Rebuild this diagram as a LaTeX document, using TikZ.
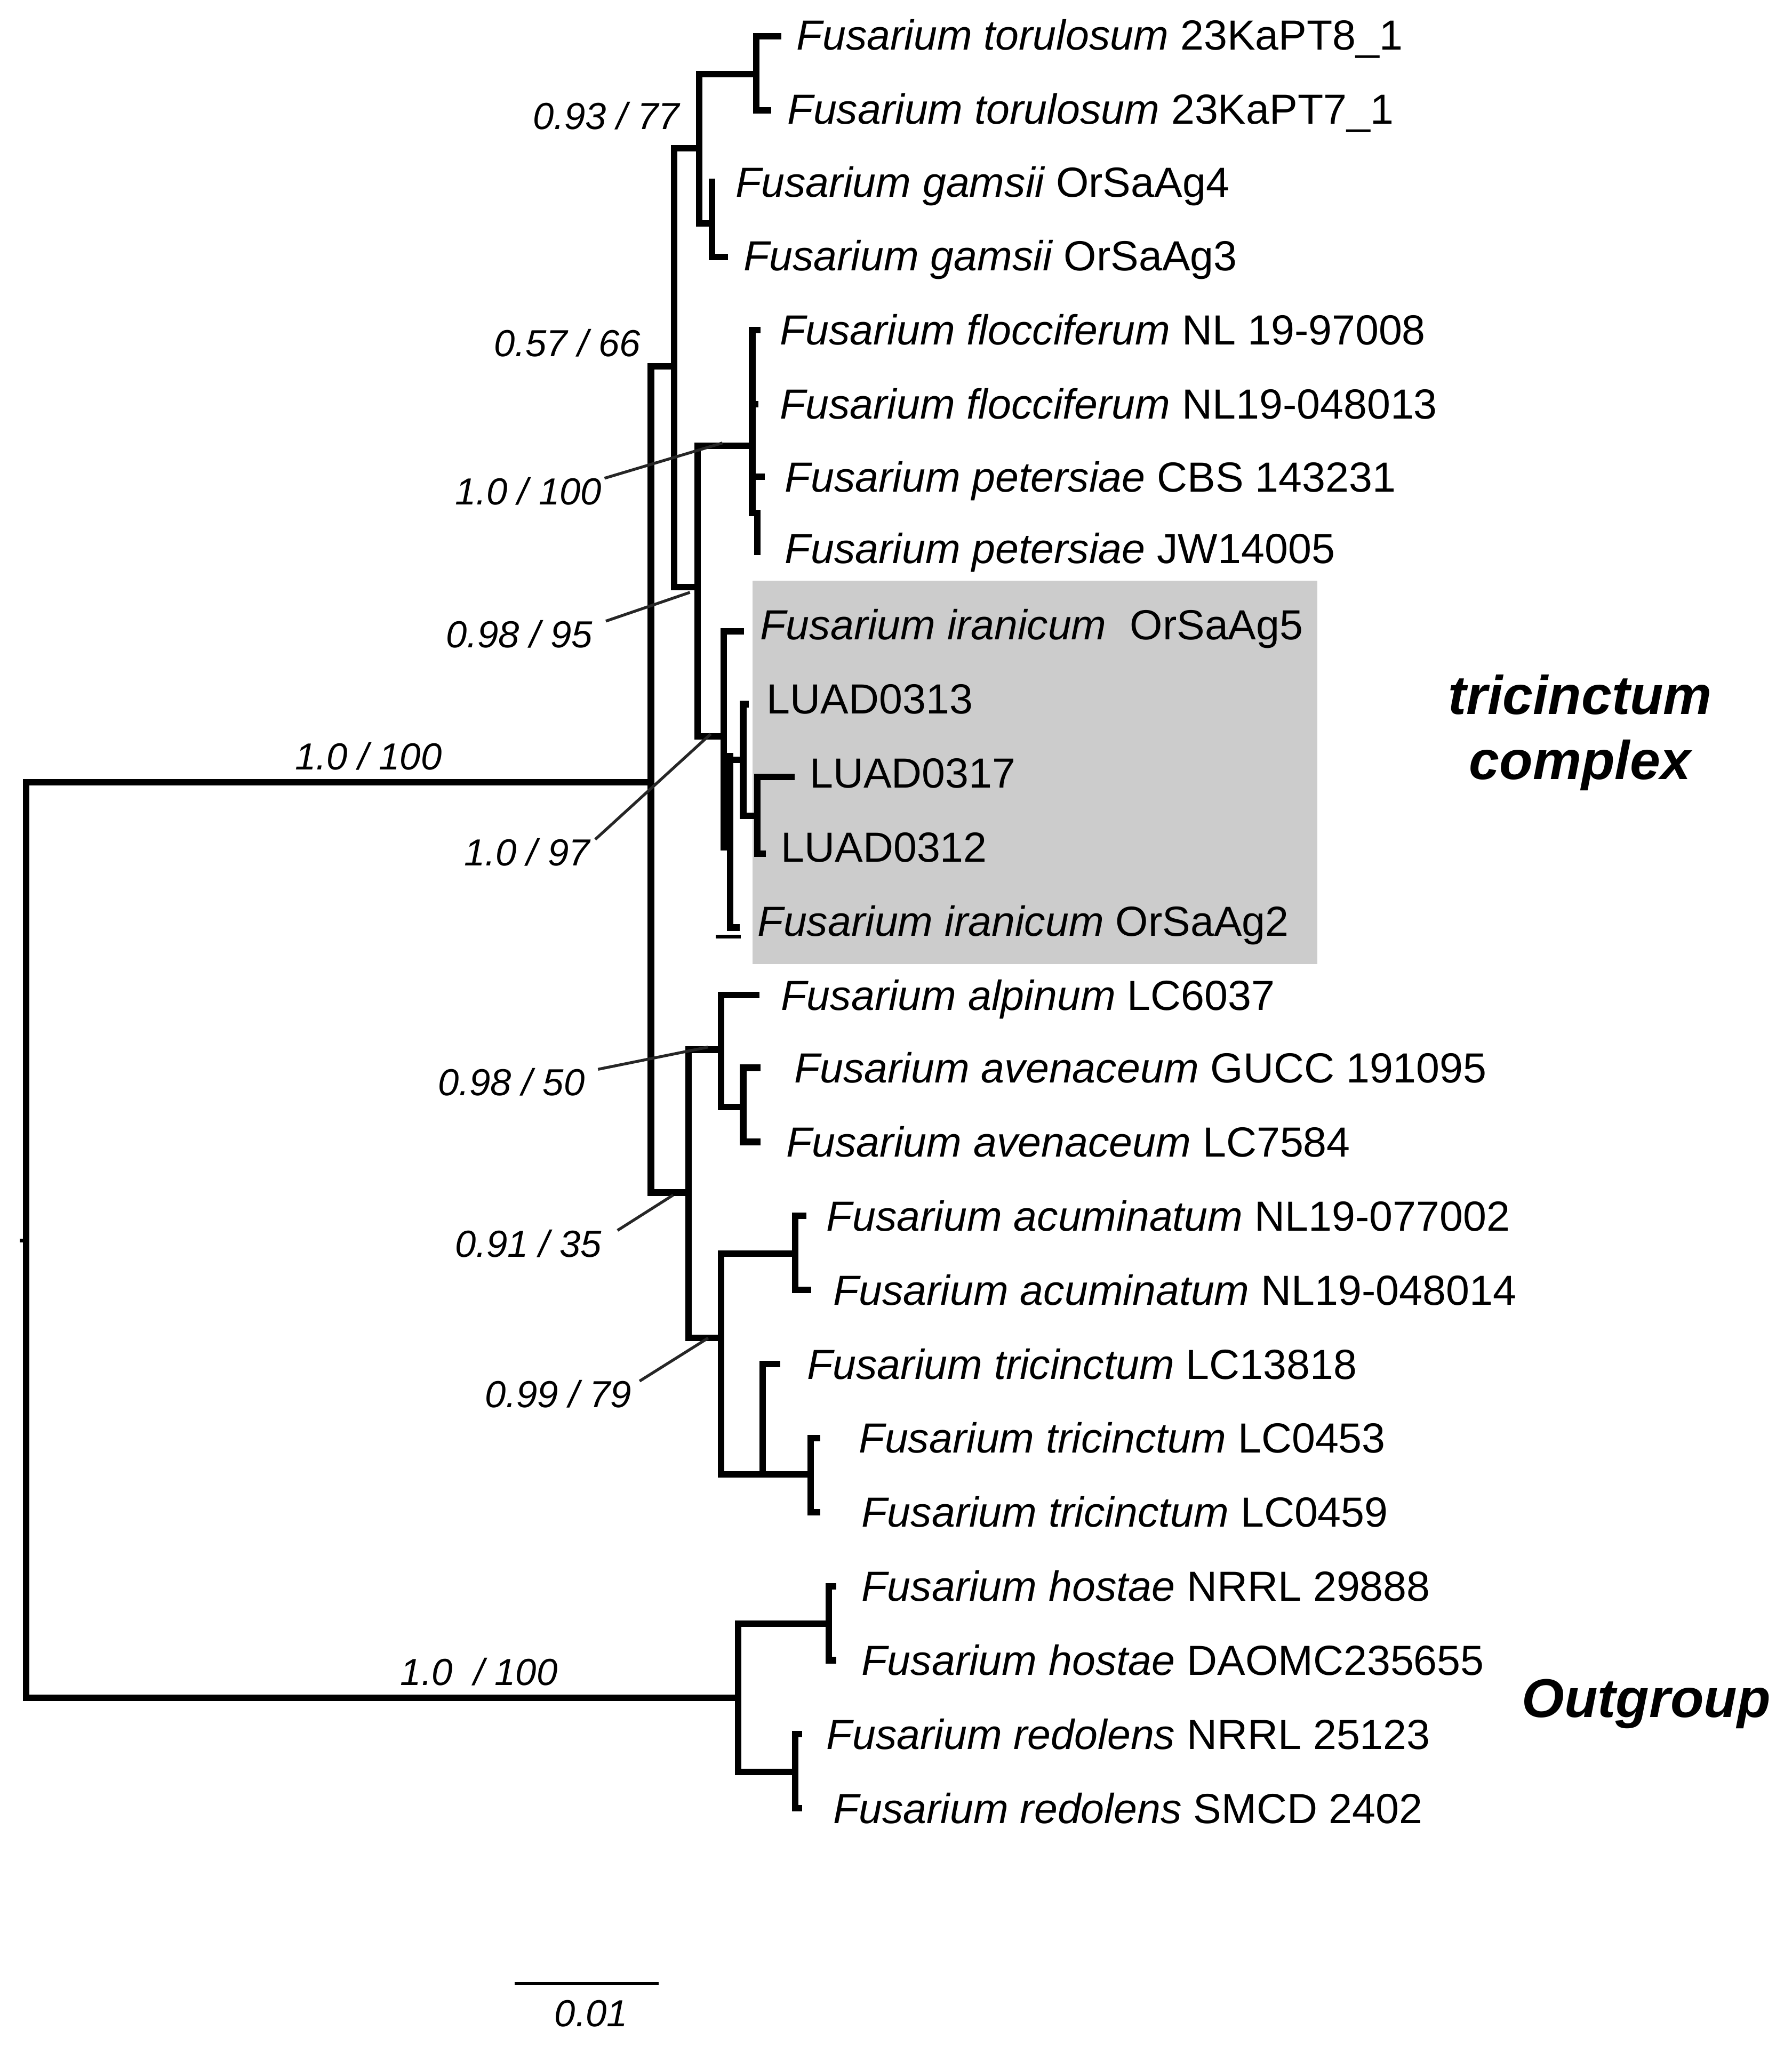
\documentclass[tikz,border=0pt]{standalone}
\usepackage{fontspec}
\setmainfont{Liberation Sans}
\begin{document}
\begin{tikzpicture}[x=1pt,y=-1pt,
  tr/.style={line width=5pt,line cap=rect},
  lf/.style={anchor=base west,inner sep=0pt,font=\fontsize{32.4}{38}\selectfont},
  sv/.style={anchor=base west,inner sep=0pt,font=\fontsize{29}{34}\selectfont\itshape},
  ld/.style={line width=2.2pt,black!85},
  grp/.style={anchor=base,inner sep=0pt,font=\fontsize{42}{48}\selectfont\bfseries\itshape}]
\useasboundingbox (0,0) rectangle (1379,1575);
\fill[black!20] (579,447) rectangle (1014,742);
% root
\draw[tr] (501,602) -| (20,1307) -- (568,1307);
\draw[line width=3pt] (15,955) -- (20,955);
% ingroup
\draw[tr] (519,282) -| (501,918) -- (530,918);
\draw[tr] (538,114) -| (519,452) -- (537,452);
\draw[tr] (582,57) -| (538,172) -- (548,172);
\draw[tr] (599,28) -| (582,85) -- (591,85);
\draw[tr] (548,140) -- (548,198) -- (558,198);
\draw[tr] (579,343) -| (537,567) -- (557,567);
\draw[tr] (583,254) -| (579,395) -- (583,395) -- (583,425);
\draw[tr] (579,311) -- (581,311);
\draw[tr] (583,367) -- (586,367);
\draw[tr] (570,486) -| (557,652);
\draw[tr] (562,582) -- (562,714) -- (567,714);
\draw[line width=3pt] (551,721) -- (570,721);
\draw[tr] (562,585) -- (572,585);
\draw[tr] (574,542) -| (572,628) -- (583,628);
\draw[tr] (609,598) -| (583,657) -- (587,657);
% lower ingroup
\draw[tr] (555,808) -| (530,1030) -- (555,1030);
\draw[tr] (582,766) -| (555,852) -- (572,852);
\draw[tr] (583,822) -| (572,879) -- (583,879);
\draw[tr] (612,965) -| (555,1135) -- (587,1135);
\draw[tr] (618,936) -| (612,993) -- (622,993);
\draw[tr] (598,1050) -| (587,1135);
\draw[tr] (587,1135) -- (624,1135);
\draw[tr] (629,1107) -| (624,1164) -- (629,1164);
% outgroup
\draw[tr] (638,1250) -| (568,1364) -- (612,1364);
\draw[tr] (641,1221) -| (638,1278) -- (641,1278);
\draw[tr] (615,1335) -| (612,1392) -- (615,1392);
% labels
\node[lf] (l1) at (613,38.5) {\itshape Fusarium torulosum\upshape\ 23KaPT8\_1};
\node[lf] (l2) at (606,95.5) {\itshape Fusarium torulosum\upshape\ 23KaPT7\_1};
\node[lf] (l3) at (566,151.5) {\itshape Fusarium gamsii\upshape\ OrSaAg4};
\node[lf] (l4) at (572,208.5) {\itshape Fusarium gamsii\upshape\ OrSaAg3};
\node[lf] (l5) at (600,265.5) {\itshape Fusarium flocciferum\upshape\ NL 19-97008};
\node[lf] (l6) at (600,322.5) {\itshape Fusarium flocciferum\upshape\ NL19-048013};
\node[lf] (l7) at (604,378.5) {\itshape Fusarium petersiae\upshape\ CBS 143231};
\node[lf] (l8) at (604,433.5) {\itshape Fusarium petersiae\upshape\ JW14005};
\node[lf] (l9) at (585,492.5) {\itshape Fusarium iranicum\upshape\ \ OrSaAg5};
\node[lf] (l10) at (590,549.5) {LUAD0313};
\node[lf] (l11) at (623,606.5) {LUAD0317};
\node[lf] (l12) at (601,663.5) {LUAD0312};
\node[lf] (l13) at (583,720.5) {\itshape Fusarium iranicum\upshape\ OrSaAg2};
\node[lf] (l14) at (601,777.5) {\itshape Fusarium alpinum\upshape\ LC6037};
\node[lf] (l15) at (611,833.5) {\itshape Fusarium avenaceum\upshape\ GUCC 191095};
\node[lf] (l16) at (605,890.5) {\itshape Fusarium avenaceum\upshape\ LC7584};
\node[lf] (l17) at (636,947.5) {\itshape Fusarium acuminatum\upshape\ NL19-077002};
\node[lf] (l18) at (641,1004.5) {\itshape Fusarium acuminatum\upshape\ NL19-048014};
\node[lf] (l19) at (621,1061.5) {\itshape Fusarium tricinctum\upshape\ LC13818};
\node[lf] (l20) at (661,1118.5) {\itshape Fusarium tricinctum\upshape\ LC0453};
\node[lf] (l21) at (663,1175.5) {\itshape Fusarium tricinctum\upshape\ LC0459};
\node[lf] (l22) at (663,1232.5) {\itshape Fusarium hostae\upshape\ NRRL 29888};
\node[lf] (l23) at (663,1289.5) {\itshape Fusarium hostae\upshape\ DAOMC235655};
\node[lf] (l24) at (636,1346.5) {\itshape Fusarium redolens\upshape\ NRRL 25123};
\node[lf] (l25) at (641,1403.5) {\itshape Fusarium redolens\upshape\ SMCD 2402};
% support values
\node[sv] (s1) at (410,99.5) {0.93 / 77};
\node[sv] (s2) at (380,274.5) {0.57 / 66};
\node[sv] (s3) at (350,388.5) {1.0 / 100};
\node[sv] (s4) at (343,498.5) {0.98 / 95};
\node[sv] (s5) at (357,666.5) {1.0 / 97};
\node[sv] (s6) at (227,592.5) {1.0 / 100};
\node[sv] (s7) at (337,843.5) {0.98 / 50};
\node[sv] (s8) at (350,967.5) {0.91 / 35};
\node[sv] (s9) at (373,1083.5) {0.99 / 79};
\node[sv] (s10) at (308,1297.5) {1.0\ \ / 100};
\coordinate (p3) at (556,341); \coordinate (p4) at (531,456);
\coordinate (p5) at (547,565); \coordinate (p7) at (545,806);
\coordinate (p8) at (518,920); \coordinate (p9) at (545,1030);
\draw[ld] (s3.east) ++(2,-10) -- (p3);
\draw[ld] (s4.east) ++(10,-10) -- (p4);
\draw[ld] (s5.east) ++(4,-10) -- (p5);
\draw[ld] (s7.east) ++(10,-10) -- (p7);
\draw[ld] (s8.east) ++(12,-10) -- (p8);
\draw[ld] (s9.east) ++(6,-10) -- (p9);
% groups
\node[grp,align=center,font=\fontsize{42}{50}\selectfont\bfseries\itshape] (g1) at (1216,550) {tricinctum};
\node[grp] (g2) at (1216,600) {complex};
\node[grp] (g3) at (1267,1322) {Outgroup};
% scale bar
\coordinate (sb1) at (396,1527); \coordinate (sb2) at (507,1527);
\draw[line width=2.5pt] (sb1) -- (sb2);
\node[sv,anchor=base] (sbl) at (455,1560) {0.01};
\end{tikzpicture}
\end{document}
